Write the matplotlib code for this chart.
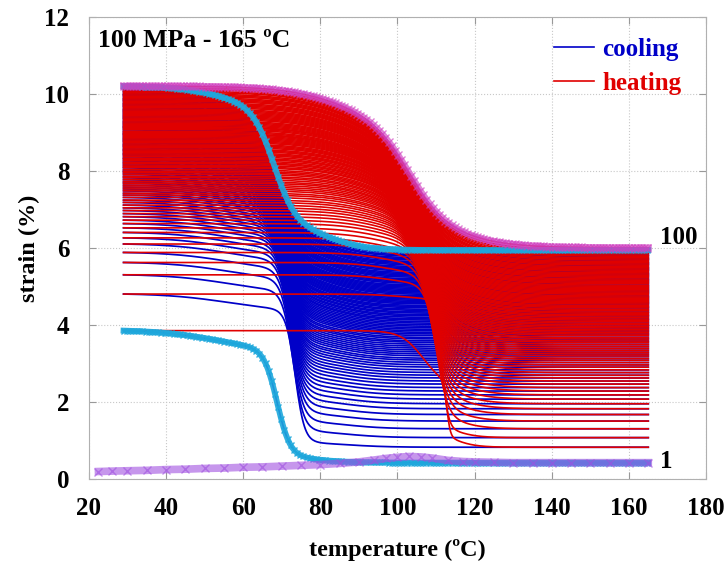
import numpy as np
import matplotlib
matplotlib.use("Agg")
import matplotlib.pyplot as plt
from matplotlib.lines import Line2D

# strain (%) at the hot end (165 C) after each heating; index 0 = first heating
high_strain = [0.42, 0.82, 1.07, 1.30, 1.50, 1.67, 1.82, 1.95, 2.07, 2.18, 2.28,
               2.37, 2.46, 2.54, 2.62, 2.69, 2.76, 2.83, 2.90, 2.96, 3.02,
               3.08, 3.13, 3.19, 3.24, 3.29, 3.34, 3.39, 3.44, 3.49, 3.54,
               3.58, 3.63, 3.67, 3.72, 3.76, 3.80, 3.84, 3.88, 3.92, 3.96,
               4.00, 4.04, 4.08, 4.12, 4.15, 4.19, 4.23, 4.26, 4.30, 4.33,
               4.37, 4.40, 4.44, 4.47, 4.50, 4.54, 4.57, 4.60, 4.63, 4.66,
               4.69, 4.72, 4.75, 4.79, 4.82, 4.85, 4.88, 4.91, 4.94, 4.97,
               5.00, 5.03, 5.07, 5.10, 5.13, 5.16, 5.19, 5.23, 5.26, 5.29,
               5.32, 5.35, 5.39, 5.42, 5.45, 5.48, 5.51, 5.55, 5.58, 5.61,
               5.64, 5.68, 5.71, 5.74, 5.78, 5.81, 5.85, 5.89, 5.94, 6.00]

# strain (%) at the cold end (29 C) after each cooling, cycles 1..100
low_strain = [3.85, 4.80, 5.30, 5.62, 5.88, 6.10, 6.26, 6.40, 6.52, 6.63,
              6.72, 6.81, 6.89, 6.97, 7.04, 7.11, 7.18, 7.24, 7.31, 7.37,
              7.42, 7.48, 7.53, 7.58, 7.63, 7.68, 7.72, 7.77, 7.82, 7.86,
              7.91, 7.95, 7.99, 8.03, 8.08, 8.11, 8.15, 8.19, 8.22, 8.26,
              8.30, 8.33, 8.37, 8.41, 8.44, 8.47, 8.51, 8.54, 8.57, 8.61,
              8.64, 8.67, 8.70, 8.74, 8.77, 8.80, 8.83, 8.86, 8.89, 8.92,
              8.95, 8.97, 9.00, 9.03, 9.07, 9.10, 9.13, 9.15, 9.18, 9.21,
              9.24, 9.27, 9.30, 9.34, 9.37, 9.40, 9.43, 9.46, 9.49, 9.52,
              9.55, 9.58, 9.61, 9.65, 9.68, 9.71, 9.74, 9.77, 9.81, 9.84,
              9.87, 9.90, 9.94, 9.97, 10.00, 10.04, 10.07, 10.11, 10.15, 10.20]

# first heating from room temperature (cycle 0)
heat0_temp = [22.5, 26, 30, 35, 40, 45, 50, 55, 60, 65, 70, 75, 80, 85, 90, 94, 97,
              100, 103, 106, 109, 113, 117, 120, 125, 130, 135, 140, 145, 150,
              155, 160, 165]
heat0_strain = [0.19, 0.20, 0.21, 0.22, 0.24, 0.25, 0.27, 0.28, 0.30, 0.31, 0.33,
                0.35, 0.37, 0.40, 0.44, 0.49, 0.53, 0.56, 0.58, 0.57, 0.54, 0.48,
                0.45, 0.44, 0.43, 0.42, 0.42, 0.42, 0.42, 0.42, 0.42, 0.42, 0.42]

t_cold, t_hot = 29.0, 165.0
temps = np.linspace(t_cold, t_hot, 500)

BLUE = "#0000c8"
RED = "#e00000"
CYAN = "#1ea8dc"
VIOLET = "#a050e0"
MAGENTA = "#d040c0"


def step(t, center, width):
    """sigmoid: 1 at the cold end, 0 at the hot end"""
    f = lambda x: 1.0 / (1.0 + np.exp((x - center) / width))
    return (f(t) - f(t_hot)) / (f(t_cold) - f(t_hot))


def lerp(a, b, s):
    return a + (b - a) * s


def cooling_curve(n):
    h = high_strain[n - 1]
    total = low_strain[n - 1] - h
    if n == 1:
        pre, main, creep = (80, 4, 0.10), (68.8, 1.7), (54, 8, 0.55)
    else:
        s = ((n - 2) / 98.0) ** 0.5
        pre = (lerp(88, 82, s), 5, lerp(0.10, 0.65, s))
        main = (lerp(73.5, 68, s), lerp(1.2, 2.8, s))
        creep = (lerp(56, 54, s), lerp(8, 6, s), lerp(0.45, 0.5, s))
    amp_main = total - pre[2] - creep[2]
    return (h + pre[2] * step(temps, pre[0], pre[1])
            + amp_main * step(temps, main[0], main[1])
            + creep[2] * step(temps, creep[0], creep[1]))


def heating_curve(n):
    h = high_strain[n]
    drop = low_strain[n - 1] - h
    if n == 1:
        pre, main, tail = (106.5, 2.8, 0.45), (112.8, 0.45), (115, 3, 0.09)
    else:
        s = ((n - 2) / 98.0) ** 0.4
        pre = (lerp(100, 85, s), lerp(4, 8, s), lerp(0.03, 0.2, s))
        main = (lerp(111.5, 103, s), lerp(0.8, 4.8, s))
        tail = (lerp(115, 116, s), lerp(3, 8, s), lerp(0.09, 0.13, s))
    a2 = 1.0 - pre[2] - tail[2]
    return h + drop * (pre[2] * step(temps, pre[0], pre[1])
                       + a2 * step(temps, main[0], main[1])
                       + tail[2] * step(temps, tail[0], tail[1]))


plt.rcParams["font.family"] = ["Liberation Serif", "DejaVu Serif"]
plt.rcParams["font.weight"] = "bold"

fig, ax = plt.subplots(figsize=(7.28, 5.62), dpi=100)
fig.subplots_adjust(left=0.122, right=0.970, bottom=0.148, top=0.970)

n_cycles = len(low_strain)
# all cooling branches first, heating branches drawn over them
for n in range(1, n_cycles + 1):
    ax.plot(temps, cooling_curve(n), color=BLUE, lw=1.25, zorder=2)
for n in range(1, n_cycles + 1):
    ax.plot(temps, heating_curve(n), color=RED, lw=1.2, zorder=2)

# highlighted first and last cycles
ax.plot(temps, cooling_curve(1), color=CYAN, lw=4.2, alpha=0.9, marker="x",
        ms=5, markevery=3, zorder=3)
ax.plot(heat0_temp, heat0_strain, color=VIOLET, lw=5.5, alpha=0.6, marker="x",
        ms=6, zorder=3)
ax.plot(temps, cooling_curve(n_cycles), color=CYAN, lw=4.2, alpha=0.9, marker="x",
        ms=5, markevery=3, zorder=3)
ax.plot(temps, heating_curve(n_cycles), color=MAGENTA, lw=5, alpha=0.65, marker="x",
        ms=6, markevery=3, zorder=4)

ax.text(168, 6.28, "100", fontsize=18, fontweight="bold", va="center", ha="left")
ax.text(168, 0.45, "1", fontsize=18, fontweight="bold", va="center", ha="left")
ax.text(0.015, 0.948, "100 MPa - 165 ºC", transform=ax.transAxes, fontsize=18.5,
        fontweight="bold", va="center", ha="left")

handles = [Line2D([], [], color=BLUE, lw=1.2), Line2D([], [], color=RED, lw=1.2)]
ax.legend(handles, ["cooling", "heating"], loc="upper right",
          bbox_to_anchor=(0.96, 0.955), frameon=False,
          labelcolor=[BLUE, RED], handlelength=1.6, handletextpad=0.35,
          labelspacing=0.45, borderpad=0, borderaxespad=0,
          prop={"weight": "bold", "size": 18})

ax.set_xlim(20, 180)
ax.set_ylim(0, 12)
ax.set_xticks(np.arange(20, 181, 20))
ax.set_yticks(np.arange(0, 13, 2))
ax.grid(True, ls=":", color="#c8c8c8", lw=0.8)
ax.set_axisbelow(True)
ax.tick_params(direction="in", top=True, right=True, length=5, color="#999999",
               labelsize=18)
ax.tick_params(axis="x", pad=13)
ax.tick_params(axis="y", pad=14)
for sp in ax.spines.values():
    sp.set_color("#b0b0b0")

ax.set_xlabel("temperature (ºC)", fontsize=17.5, fontweight="bold", labelpad=14)
ax.set_ylabel("strain (%)", fontsize=17.5, fontweight="bold", labelpad=3)

fig.savefig("out.png", dpi=100)
